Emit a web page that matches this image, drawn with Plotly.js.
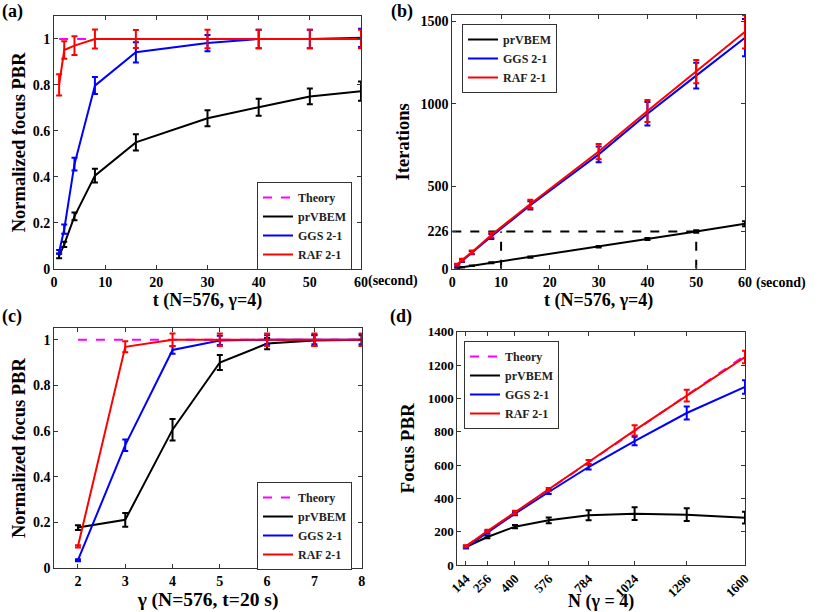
<!DOCTYPE html>
<html><head><meta charset="utf-8">
<script src="https://cdn.plot.ly/plotly-3.0.1.min.js"></script>
<style>body{margin:0;background:#fff}#chart{width:818px;height:612px}</style>
</head><body><div id="chart"></div>
<script>
// ---------- data ----------
// (a) normalized focus PBR vs time
const tA = [1, 2, 4, 8, 16, 30, 40, 50, 60];
const aPrv = [0.056, 0.106, 0.228, 0.405, 0.55, 0.655, 0.703, 0.75, 0.773];
const aPrvErr = [0.01, 0.011, 0.017, 0.03, 0.035, 0.035, 0.037, 0.034, 0.042];
const aGgs = [0.073, 0.172, 0.455, 0.797, 0.942, 0.982, 1.0, 1.0, 1.005];
const aGgsErr = [0.008, 0.02, 0.028, 0.037, 0.044, 0.035, 0.04, 0.04, 0.04];
const aRaf = [0.80, 0.952, 0.971, 1.0, 1.0, 1.0, 1.0, 1.0, 1.0];
const aRafErr = [0.046, 0.038, 0.041, 0.041, 0.039, 0.04, 0.04, 0.04, 0.04];
const aTheoryX = [1, 60];
const aTheoryY = [1, 1];
// (b) iterations vs time
const bPrv = [4.5, 9, 18, 36, 70, 133, 180, 226, 273];
const bPrvErr = [1, 1, 2, 3, 4, 5, 6, 8, 15];
const bGgs = [22, 49, 97, 196, 385, 694, 941, 1172, 1402];
const bGgsErr = [5, 8, 10, 15, 25, 48, 71, 78, 113];
const bRaf = [25, 53, 100, 205, 393, 711, 957, 1196, 1438];
const bRafErr = [5, 8, 10, 15, 25, 46, 67, 71, 101];
const bRefValue = 226;
const bRefTimes = [10, 50];
const bTicks = [0, 226, 500, 1000, 1500];
// (c) normalized focus PBR vs gamma
const gC = [2, 3, 4, 5, 6, 7, 8];
const cPrv = [0.177, 0.211, 0.606, 0.9, 0.983, 0.997, 1.0];
const cPrvErr = [0.01, 0.03, 0.047, 0.033, 0.025, 0.025, 0.025];
const cGgs = [0.034, 0.538, 0.955, 0.997, 1.0, 1.0, 1.0];
const cGgsErr = [0.004, 0.025, 0.016, 0.02, 0.02, 0.02, 0.02];
const cRaf = [0.095, 0.969, 1.0, 1.0, 1.0, 1.0, 1.0];
const cRafErr = [0.005, 0.024, 0.027, 0.027, 0.027, 0.027, 0.027];
const cTheoryX = [2, 8];
const cTheoryY = [1, 1];
// (d) focus PBR vs N
const nD = [144, 256, 400, 576, 784, 1024, 1296, 1600];
const nLabels = ['144', '256', '400', '576', '784', '1024', '1296', '1600'];
const dTheory = [113, 201, 314, 452, 616, 804, 1018, 1257];
const dPrv = [108, 168, 230, 268, 298, 308, 302, 284];
const dPrvErr = [8, 8, 10, 17, 30, 38, 38, 35];
const dGgs = [106, 196, 308, 438, 588, 744, 912, 1068];
const dGgsErr = [6, 8, 10, 12, 15, 25, 39, 40];
const dRaf = [112, 204, 316, 452, 618, 808, 1016, 1248];
const dRafErr = [6, 8, 10, 10, 12, 31, 35, 38];

// ---------- layout helpers ----------
const FW = 818, FH = 612, ML = 54, MR = 73, MT = 15, MB = 44;
const PW = FW - ML - MR, PH = FH - MT - MB;
const px = x => (x - ML) / PW;
const py = y => (FH - MB - y) / PH;
const clamp = v => Math.max(0, Math.min(1, v));

const FONT = '"Liberation Serif"';
const BLACK = '#000000', BLUE = '#0000ff', RED = '#ff0000', MAG = '#ff00ff';
const FRAME = '#333333';

function errLine(x, y, e, color, name, xa, ya, leg, show) {
  return {
    x: x, y: y, type: 'scatter', mode: 'lines', name: name,
    xaxis: xa, yaxis: ya, legend: leg, showlegend: show,
    line: {color: color, width: 2},
    error_y: {type: 'data', array: e, visible: true, color: color, thickness: 2, width: 3}
  };
}
function theory(x, y, xa, ya, leg) {
  return {x: x, y: y, type: 'scatter', mode: 'lines', name: 'Theory',
    xaxis: xa, yaxis: ya, legend: leg,
    line: {color: MAG, width: 2, dash: 'dash'}};
}

const traces = [];
// (a)
traces.push(theory(aTheoryX, aTheoryY, 'x', 'y', 'legend'));
traces.push(errLine(tA, aPrv, aPrvErr, BLACK, 'prVBEM', 'x', 'y', 'legend', true));
traces.push(errLine(tA, aGgs, aGgsErr, BLUE, 'GGS 2-1', 'x', 'y', 'legend', true));
traces.push(errLine(tA, aRaf, aRafErr, RED, 'RAF 2-1', 'x', 'y', 'legend', true));
// (b) reference dashed lines
traces.push({x: [0, bRefTimes[1]], y: [bRefValue, bRefValue], type: 'scatter', mode: 'lines',
  xaxis: 'x2', yaxis: 'y2', showlegend: false, hoverinfo: 'skip',
  line: {color: BLACK, width: 2, dash: 'dash'}});
bRefTimes.forEach(t => traces.push({x: [t, t], y: [0, bRefValue], type: 'scatter', mode: 'lines',
  xaxis: 'x2', yaxis: 'y2', showlegend: false, hoverinfo: 'skip',
  line: {color: BLACK, width: 2, dash: 'dash'}}));
traces.push(errLine(tA, bPrv, bPrvErr, BLACK, 'prVBEM', 'x2', 'y2', 'legend2', true));
traces.push(errLine(tA, bGgs, bGgsErr, BLUE, 'GGS 2-1', 'x2', 'y2', 'legend2', true));
traces.push(errLine(tA, bRaf, bRafErr, RED, 'RAF 2-1', 'x2', 'y2', 'legend2', true));
// (c)
traces.push(theory(cTheoryX, cTheoryY, 'x3', 'y3', 'legend3'));
traces.push(errLine(gC, cPrv, cPrvErr, BLACK, 'prVBEM', 'x3', 'y3', 'legend3', true));
traces.push(errLine(gC, cGgs, cGgsErr, BLUE, 'GGS 2-1', 'x3', 'y3', 'legend3', true));
traces.push(errLine(gC, cRaf, cRafErr, RED, 'RAF 2-1', 'x3', 'y3', 'legend3', true));
// (d)
traces.push(theory(nD, dTheory, 'x4', 'y4', 'legend4'));
traces.push(errLine(nD, dPrv, dPrvErr, BLACK, 'prVBEM', 'x4', 'y4', 'legend4', true));
traces.push(errLine(nD, dGgs, dGgsErr, BLUE, 'GGS 2-1', 'x4', 'y4', 'legend4', true));
traces.push(errLine(nD, dRaf, dRafErr, RED, 'RAF 2-1', 'x4', 'y4', 'legend4', true));

const tickFont = {family: FONT, size: 14, color: BLACK, weight: 'bold'};
const xTitleFont = {family: FONT, size: 18, color: BLACK, weight: 'bold'};
const yTitleFont = {family: FONT, size: 18.5, color: BLACK, weight: 'bold'};

function axis(extra) {
  return Object.assign({
    showline: true, linecolor: FRAME, linewidth: 1, mirror: 'allticks',
    ticks: 'inside', ticklen: 4, tickcolor: FRAME, tickwidth: 1,
    showgrid: false, zeroline: false, tickfont: tickFont, automargin: false
  }, extra);
}

const legBase = {bgcolor: '#ffffff', bordercolor: FRAME, borderwidth: 1,
  font: {family: FONT, size: 12, color: '#222222', weight: 'bold'},
  xanchor: 'left', yanchor: 'top', traceorder: 'normal', tracegroupgap: 0};

const layout = {
  width: FW, height: FH, autosize: false,
  margin: {l: ML, r: MR, t: MT, b: MB},
  paper_bgcolor: '#ffffff', plot_bgcolor: '#ffffff',
  font: {family: FONT},
  showlegend: true,
  xaxis: axis({domain: [clamp(px(54)), clamp(px(361))], range: [0, 60], anchor: 'y',
    tickvals: [0, 10, 20, 30, 40, 50, 60],
    title: {text: 't (N=576, γ=4)', font: xTitleFont, standoff: 4}}),
  yaxis: axis({domain: [clamp(py(268.7)), clamp(py(16))], range: [0, 1.1], anchor: 'x',
    tickvals: [0, 0.2, 0.4, 0.6, 0.8, 1],
    title: {text: 'Normalized focus PBR', font: yTitleFont, standoff: 2}}),
  xaxis2: axis({domain: [clamp(px(452.3)), clamp(px(745))], range: [0, 60], anchor: 'y2',
    tickvals: [0, 10, 20, 30, 40, 50, 60],
    title: {text: 't (N=576, γ=4)', font: xTitleFont, standoff: 4}}),
  yaxis2: axis({domain: [clamp(py(268.7)), clamp(py(15))], range: [0, 1540], anchor: 'x2',
    tickvals: bTicks,
    title: {text: 'Iterations', font: yTitleFont, standoff: 6}}),
  xaxis3: axis({domain: [clamp(px(54.3)), clamp(px(361.7))], range: [1.5, 8], anchor: 'y3',
    tickvals: [2, 3, 4, 5, 6, 7, 8],
    title: {text: 'γ (N=576, t=20 s)', font: {family: FONT, size: 19.5, color: BLACK, weight: 'bold'}, standoff: 0}}),
  yaxis3: axis({domain: [clamp(py(568.3)), clamp(py(328.3))], range: [0, 1.05], anchor: 'x3',
    tickvals: [0, 0.2, 0.4, 0.6, 0.8, 1],
    title: {text: 'Normalized focus PBR', font: yTitleFont, standoff: 2}}),
  xaxis4: axis({domain: [clamp(px(457.3)), clamp(px(745))], range: [99, 1600], anchor: 'y4',
    tickvals: nD, ticktext: nLabels, tickangle: -45,
    tickfont: {family: FONT, size: 13, color: BLACK, weight: 'bold'},
    title: {text: 'N (γ = 4)', font: xTitleFont, standoff: 0}}),
  yaxis4: axis({domain: [clamp(py(565)), clamp(py(331.7))], range: [0, 1400], anchor: 'x4',
    tickvals: [0, 200, 400, 600, 800, 1000, 1200, 1400],
    tickfont: {family: FONT, size: 13, color: BLACK, weight: 'bold'},
    title: {text: 'Focus PBR', font: {family: FONT, size: 19, color: BLACK, weight: 'bold'}, standoff: 8}}),
  legend: Object.assign({}, legBase, {x: px(257), y: py(182)}),
  legend2: Object.assign({}, legBase, {x: px(462), y: py(24)}),
  legend3: Object.assign({}, legBase, {x: px(257), y: py(482)}),
  legend4: Object.assign({}, legBase, {x: px(464), y: py(341)}),
  annotations: [
    {text: '(a)', x: px(0), y: py(11), xanchor: 'left', yanchor: 'middle'},
    {text: '(b)', x: px(389), y: py(11), xanchor: 'left', yanchor: 'middle'},
    {text: '(c)', x: px(0), y: py(316), xanchor: 'left', yanchor: 'middle'},
    {text: '(d)', x: px(388), y: py(316), xanchor: 'left', yanchor: 'middle'},
    {text: '(second)', x: px(366), y: py(281), xanchor: 'left', yanchor: 'middle', size: 14},
    {text: '(second)', x: px(754), y: py(283), xanchor: 'left', yanchor: 'middle', size: 14}
  ].map(a => ({text: a.text, x: a.x, y: a.y, xref: 'paper', yref: 'paper',
    xanchor: a.xanchor, yanchor: a.yanchor, showarrow: false,
    font: {family: FONT, size: a.size || 18, color: BLACK, weight: 'bold'}}))
};

Plotly.newPlot('chart', traces, layout, {displayModeBar: false, staticPlot: true});
</script>
</body></html>
